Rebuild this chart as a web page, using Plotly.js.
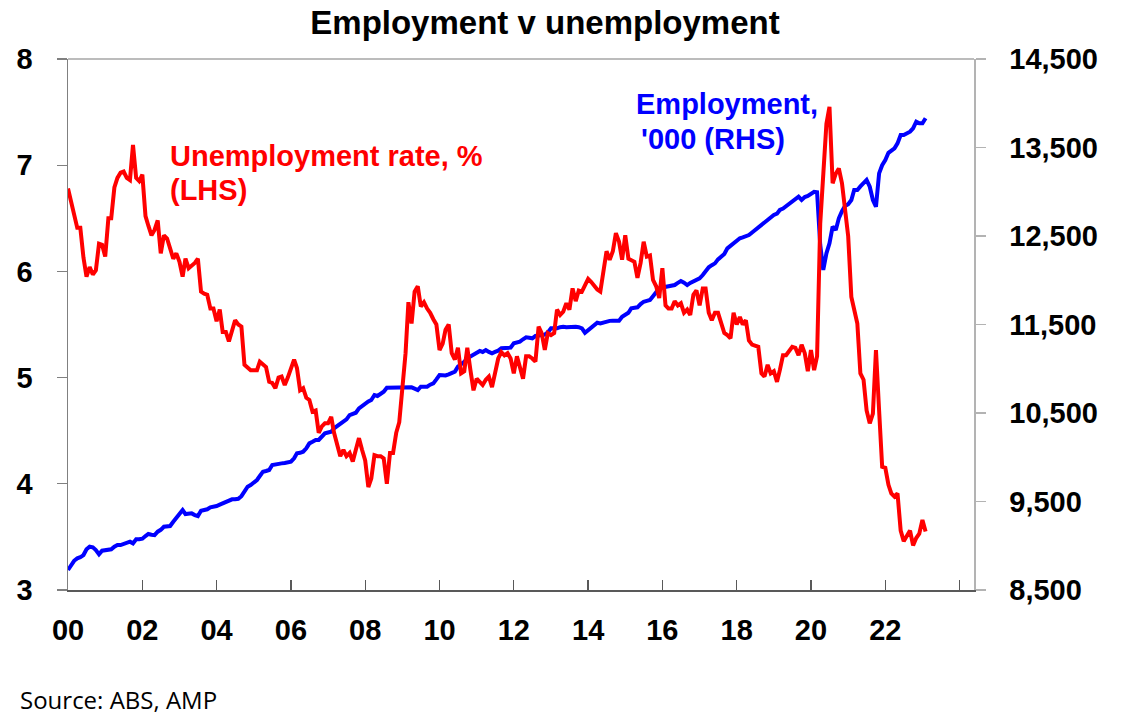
<!DOCTYPE html>
<html>
<head>
<meta charset="utf-8">
<script src="https://cdn.plot.ly/plotly-3.0.1.min.js"></script>
<style>
  html, body { margin: 0; padding: 0; background: #fff; }
  #chart { width: 1122px; height: 717px; }
</style>
</head>
<body>
<div id="chart"></div>
<script>
/* Employment v unemployment — monthly, Jan 2000 to Feb 2023.
   Values (ABS via AMP). */

// first month of the series; one point per month after that
const START_YEAR = 2000;

// x-axis ticks every two years; the last tick (2024) has no label
const tickYears  = ["2000-01-01", "2002-01-01", "2004-01-01", "2006-01-01", "2008-01-01",
                    "2010-01-01", "2012-01-01", "2014-01-01", "2016-01-01", "2018-01-01",
                    "2020-01-01", "2022-01-01", "2024-01-01"];
const tickLabels = ["00", "02", "04", "06", "08", "10", "12", "14", "16", "18", "20", "22", ""];

// Unemployment rate, % (LHS) — 12 values per year
const unempRate = [
  6.78, 6.65, 6.57, 6.41, 6.41, 6.13, 5.95, 6.04, 5.97, 6.01, 6.26, 6.25,  // 2000
  6.14, 6.50, 6.50, 6.79, 6.88, 6.93, 6.94, 6.88, 6.86, 7.19, 6.88, 6.85,  // 2001
  6.91, 6.52, 6.43, 6.34, 6.39, 6.48, 6.17, 6.34, 6.31, 6.20, 6.12, 6.17,  // 2002
  6.09, 5.95, 6.12, 6.03, 6.05, 6.08, 6.12, 5.81, 5.79, 5.78, 5.65, 5.65,  // 2003
  5.53, 5.64, 5.43, 5.43, 5.34, 5.46, 5.54, 5.50, 5.48, 5.12, 5.10, 5.07,  // 2004
  5.07, 5.07, 5.15, 5.12, 5.10, 4.96, 4.95, 4.90, 5.00, 5.01, 4.93, 5.00,  // 2005
  5.09, 5.17, 5.09, 4.88, 4.90, 4.81, 4.79, 4.68, 4.69, 4.48, 4.54, 4.57,  // 2006
  4.57, 4.63, 4.48, 4.35, 4.26, 4.32, 4.26, 4.29, 4.21, 4.32, 4.43, 4.32,  // 2007
  4.22, 3.97, 4.05, 4.27, 4.26, 4.26, 4.24, 4.00, 4.29, 4.29, 4.48, 4.58,  // 2008
  4.91, 5.23, 5.71, 5.51, 5.81, 5.86, 5.67, 5.71, 5.65, 5.61, 5.55, 5.50,  // 2009
  5.26, 5.32, 5.45, 5.50, 5.23, 5.17, 5.28, 5.04, 5.06, 5.28, 5.07, 4.88,  // 2010
  4.99, 4.96, 4.93, 4.98, 5.01, 4.91, 5.05, 5.18, 5.24, 5.21, 5.23, 5.18,  // 2011
  5.04, 5.20, 5.10, 4.99, 5.20, 5.20, 5.18, 5.15, 5.48, 5.42, 5.26, 5.42,  // 2012
  5.40, 5.42, 5.64, 5.59, 5.62, 5.70, 5.64, 5.84, 5.72, 5.82, 5.81, 5.88,  // 2013
  5.93, 5.90, 5.86, 5.83, 5.81, 5.98, 6.19, 6.11, 6.19, 6.36, 6.28, 6.11,  // 2014
  6.34, 6.12, 6.11, 6.09, 5.94, 6.08, 6.28, 6.14, 6.15, 5.92, 5.86, 5.75,  // 2015
  6.03, 5.68, 5.65, 5.65, 5.72, 5.68, 5.70, 5.61, 5.64, 5.59, 5.78, 5.82,  // 2016
  5.68, 5.84, 5.84, 5.61, 5.54, 5.61, 5.61, 5.51, 5.42, 5.40, 5.37, 5.61,  // 2017
  5.50, 5.57, 5.50, 5.54, 5.35, 5.31, 5.30, 5.29, 5.04, 5.01, 5.12, 5.04,  // 2018
  5.06, 4.96, 5.07, 5.21, 5.21, 5.26, 5.29, 5.28, 5.21, 5.31, 5.23, 5.06,  // 2019
  5.26, 5.07, 5.20, 6.45, 7.00, 7.39, 7.55, 6.83, 6.92, 6.97, 6.83, 6.61,  // 2020
  6.33, 5.76, 5.62, 5.51, 5.04, 4.98, 4.69, 4.57, 4.66, 5.26, 4.69, 4.16,  // 2021
  4.15, 3.99, 3.91, 3.88, 3.91, 3.56, 3.46, 3.52, 3.56, 3.42, 3.49, 3.53,  // 2022
  3.66, 3.55                                                                // 2023
];

// Employment, '000 (RHS)
const employment = [
  8726, 8790, 8830, 8858, 8870, 8895, 8960, 8989, 8982, 8952, 8903, 8944,  // 2000
  8950, 8952, 8960, 8990, 9008, 9008, 9020, 9035, 9046, 9027, 9073, 9073,  // 2001
  9080, 9110, 9133, 9125, 9121, 9159, 9180, 9215, 9220, 9223, 9271, 9310,  // 2002
  9347, 9404, 9358, 9362, 9366, 9347, 9336, 9396, 9400, 9412, 9434, 9440,  // 2003
  9449, 9465, 9479, 9505, 9515, 9525, 9525, 9530, 9560, 9611, 9667, 9686,  // 2004
  9715, 9743, 9788, 9837, 9845, 9856, 9912, 9920, 9931, 9931, 9935, 9945,  // 2005
  9950, 9988, 10044, 10050, 10063, 10101, 10157, 10175, 10195, 10195, 10230, 10270,  // 2006
  10280, 10289, 10327, 10350, 10383, 10405, 10428, 10477, 10490, 10503, 10553, 10580,  // 2007
  10609, 10630, 10647, 10703, 10692, 10715, 10740, 10786, 10786, 10786, 10786, 10788,  // 2008
  10790, 10797, 10795, 10790, 10775, 10760, 10797, 10797, 10797, 10820, 10835, 10880,  // 2009
  10929, 10927, 10925, 10937, 10950, 10967, 11023, 11050, 11079, 11118, 11140, 11163,  // 2010
  11186, 11201, 11190, 11212, 11190, 11174, 11190, 11204, 11231, 11235, 11238, 11238,  // 2011
  11287, 11296, 11306, 11333, 11355, 11350, 11344, 11370, 11375, 11381, 11385, 11410,  // 2012
  11457, 11457, 11457, 11470, 11475, 11468, 11472, 11475, 11475, 11470, 11457, 11407,  // 2013
  11435, 11468, 11495, 11520, 11513, 11525, 11539, 11541, 11543, 11543, 11543, 11588,  // 2014
  11610, 11633, 11683, 11690, 11694, 11731, 11757, 11767, 11777, 11820, 11871, 11909,  // 2015
  11918, 11927, 11931, 11935, 11946, 11970, 11991, 11972, 11946, 11970, 11991, 12005,  // 2016
  12022, 12059, 12100, 12146, 12170, 12191, 12236, 12270, 12296, 12360, 12390, 12417,  // 2017
  12445, 12474, 12485, 12500, 12511, 12540, 12568, 12605, 12628, 12650, 12688, 12710,  // 2018
  12737, 12752, 12794, 12810, 12835, 12862, 12880, 12914, 12944, 12907, 12940, 12952,  // 2019
  12982, 13000, 12995, 12400, 12116, 12304, 12417, 12605, 12568, 12700, 12780, 12840,  // 2020
  12860, 12907, 13020, 13020, 13060, 13095, 13133, 13057, 12907, 12831, 13208, 13300,  // 2021
  13359, 13440, 13470, 13491, 13547, 13641, 13641, 13660, 13679, 13717, 13792, 13773,  // 2022
  13773, 13830                                                                        // 2023
];

// month dates, first of each month from Jan 2000
const months = unempRate.map((_, i) => {
  const y = START_YEAR + Math.floor(i / 12);
  const m = (i % 12) + 1;
  return `${y}-${String(m).padStart(2, "0")}-01`;
});

const RED = "#ff0000";
const BLUE = "#0000ff";
const ARIAL = "Liberation Sans, Arial, sans-serif";
const tickFont = { family: ARIAL, size: 29, color: "#000", weight: "bold" };

// plot-area pixel box, used to place the text labels
const PX = { l: 68, r: 974, t: 59, b: 590 };
const px = x => (x - PX.l) / (PX.r - PX.l);
const py = y => (PX.b - y) / (PX.b - PX.t);

// employment first so the unemployment line sits on top
const traces = [
  {
    type: "scatter", mode: "lines",
    x: months, y: employment,
    name: "Employment, '000 (RHS)",
    yaxis: "y",
    line: { color: BLUE, width: 4 },
  },
  {
    type: "scatter", mode: "lines",
    x: months, y: unempRate,
    name: "Unemployment rate, % (LHS)",
    yaxis: "y2",
    line: { color: RED, width: 4 },
  },
];

function label(text, x, y, color, size, extra) {
  return Object.assign({
    text, xref: "paper", yref: "paper",
    x: px(x), y: py(y),
    xanchor: "left", yanchor: "middle",
    showarrow: false,
    font: { family: ARIAL, size: size || 29, color, weight: "bold" },
  }, extra || {});
}

const layout = {
  width: 1122,
  height: 717,
  paper_bgcolor: "#fff",
  plot_bgcolor: "#fff",
  showlegend: false,
  margin: { l: PX.l, r: 1122 - PX.r, t: PX.t, b: 717 - PX.b, pad: 0 },
  title: {
    text: "Employment v unemployment",
    xref: "container", yref: "container",
    x: 545 / 1122, y: 1 - 22 / 717,
    xanchor: "center", yanchor: "middle",
    font: { family: ARIAL, size: 33, color: "#000", weight: "bold" },
  },
  xaxis: {
    type: "date",
    range: ["2000-01-01", "2024-05-22"],
    tickmode: "array",
    tickvals: tickYears,
    ticktext: tickLabels,
    ticks: "inside",
    ticklen: 10,
    tickwidth: 1.3,
    tickcolor: "#595959",
    showline: true,
    linecolor: "#595959",
    linewidth: 1.5,
    showgrid: false,
    zeroline: false,
    tickfont: tickFont,
    ticklabelstandoff: 14,
    fixedrange: true,
  },
  // right-hand axis: employment
  yaxis: {
    side: "right",
    range: [8500, 14500],
    tick0: 8500,
    dtick: 1000,
    tickformat: ",",
    ticks: "outside",
    ticklen: 10,
    tickwidth: 1.3,
    tickcolor: "#b3b3b3",
    showline: true,
    linecolor: "#b3b3b3",
    linewidth: 1.5,
    showgrid: false,
    zeroline: false,
    tickfont: tickFont,
    ticklabelstandoff: 18,
  },
  // left-hand axis: unemployment rate
  yaxis2: {
    side: "left",
    overlaying: "y",
    range: [3, 8],
    dtick: 1,
    ticks: "outside",
    ticklen: 10,
    tickwidth: 1.3,
    tickcolor: "#808080",
    showline: true,
    linecolor: "#808080",
    linewidth: 1.5,
    showgrid: false,
    zeroline: false,
    tickfont: tickFont,
    ticklabelstandoff: 18,
  },
  shapes: [{
    // top border of the plot area
    type: "line", xref: "paper", yref: "paper",
    x0: 0, x1: 1, y0: 1, y1: 1,
    line: { color: "#a6a6a6", width: 1.5 },
  }],
  annotations: [
    label("Unemployment rate, %", 168, 156, RED),
    label("(LHS)", 168, 190, RED),
    label("Employment,", 634, 104, BLUE),
    label("'000 (RHS)", 639, 139, BLUE),
    {
      text: "Source: ABS, AMP",
      xref: "paper", yref: "paper",
      x: px(18), y: py(699),
      xanchor: "left", yanchor: "middle",
      showarrow: false,
      font: { family: "Open Sans, sans-serif", size: 24, color: "#000" },
    },
  ],
};

Plotly.newPlot("chart", traces, layout, { staticPlot: true, displayModeBar: false });
</script>
</body>
</html>
